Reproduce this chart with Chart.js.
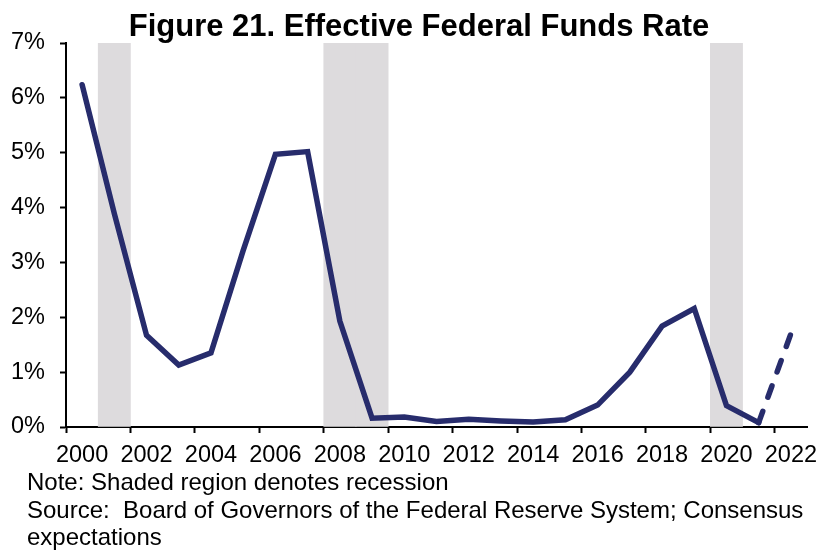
<!DOCTYPE html>
<html>
<head>
<meta charset="utf-8">
<script src="https://cdn.jsdelivr.net/npm/chart.js@4/dist/chart.umd.min.js"></script>
<style>
  html, body { margin: 0; padding: 0; background: #fff; }
  #wrap { position: relative; width: 817px; height: 552px; overflow: hidden; font-family: "Liberation Sans", Arial, sans-serif; color: #000; }
  #cv { position: absolute; left: 0; top: 0; }
  #title { position: absolute; top: 10px; left: 419px; transform: translateX(-50%); white-space: nowrap; font-weight: bold; font-size: 31px; line-height: 31px; }
  #notes { position: absolute; top: 468px; left: 27px; white-space: nowrap; font-size: 24px; line-height: 27.5px; }
</style>
</head>
<body>
<div id="wrap">
  <canvas id="cv" width="817" height="552"></canvas>
  <div id="title">Figure 21. Effective Federal Funds Rate</div>
  <div id="notes">Note: Shaded region denotes recession<br>Source:&nbsp; Board of Governors of the Federal Reserve System; Consensus<br>expectations</div>
</div>
<script>
// Categories (years)
const years = ['2000','2001','2002','2003','2004','2005','2006','2007','2008','2009','2010','2011',
               '2012','2013','2014','2015','2016','2017','2018','2019','2020','2021','2022'];
// Effective federal funds rate, annual average (%); 2022 = consensus expectation
const fedFundsRate = [6.24, 3.89, 1.67, 1.13, 1.35, 3.22, 4.97, 5.02, 1.93, 0.16, 0.18, 0.10,
                      0.14, 0.11, 0.09, 0.13, 0.40, 1.00, 1.84, 2.16, 0.39, 0.08, 1.70];
// Recession years (shaded)
const recessionYears = ['2001', '2008', '2009', '2020'];
// Y axis range / tick labels
const yTicks = [0, 1, 2, 3, 4, 5, 6, 7];
const forecastStartIndex = 21; // segment from 2021 to 2022 is dashed (expectation)

const yMax = yTicks[yTicks.length - 1];
const recessionBars = years.map(y => recessionYears.includes(y) ? yMax : null);

const lineColor = '#272C6C';

new Chart(document.getElementById('cv'), {
  type: 'line',
  data: {
    labels: years,
    datasets: [
      {
        type: 'line',
        label: 'Effective Federal Funds Rate',
        data: fedFundsRate,
        borderColor: lineColor,
        backgroundColor: lineColor,
        borderWidth: 5.5,
        borderCapStyle: 'round',
        borderJoinStyle: 'miter',
        pointRadius: 0,
        tension: 0,
        order: 0,
        segment: {
          borderDash: ctx => ctx.p0DataIndex >= forecastStartIndex ? [12, 15] : undefined
        }
      },
      {
        type: 'bar',
        label: 'Recession',
        data: recessionBars,
        backgroundColor: '#DDDBDD',
        borderWidth: 0,
        barPercentage: 1,
        categoryPercentage: 1,
        order: 1
      }
    ]
  },
  options: {
    responsive: false,
    animation: false,
    devicePixelRatio: 1,
    layout: { padding: { left: 0, right: 10, top: 43, bottom: 85 } },
    plugins: { legend: { display: false }, tooltip: { enabled: false }, title: { display: false } },
    scales: {
      x: {
        type: 'category',
        offset: true,
        grid: {
          offset: true,
          drawOnChartArea: false,
          drawTicks: true,
          tickLength: 6,
          tickWidth: 2,
          tickColor: ctx => (ctx.type === 'tick' && ctx.index % 2 === 0) ? '#000' : 'rgba(0,0,0,0)'
        },
        border: { display: true, color: '#000', width: 2 },
        ticks: {
          autoSkip: false,
          maxRotation: 0,
          minRotation: 0,
          padding: 8,
          color: '#000',
          font: { family: '"Liberation Sans", Arial, sans-serif', size: 23.5 },
          callback: function(val, idx) { return idx % 2 === 0 ? years[idx] : ''; }
        },
        afterFit: s => { s.height = 40; s.paddingLeft = 0; s.paddingRight = 0; }
      },
      y: {
        min: yTicks[0],
        max: yMax,
        grid: {
          drawOnChartArea: false,
          drawTicks: true,
          tickLength: 6,
          tickWidth: 2,
          tickColor: '#000'
        },
        border: { display: true, color: '#000', width: 2 },
        ticks: {
          stepSize: 1,
          padding: 15,
          color: '#000',
          font: { family: '"Liberation Sans", Arial, sans-serif', size: 23.5 },
          callback: v => v + '%'
        },
        afterFit: s => { s.width = 66; s.paddingTop = 0; s.paddingBottom = 0; }
      }
    }
  }
});
</script>
</body>
</html>
